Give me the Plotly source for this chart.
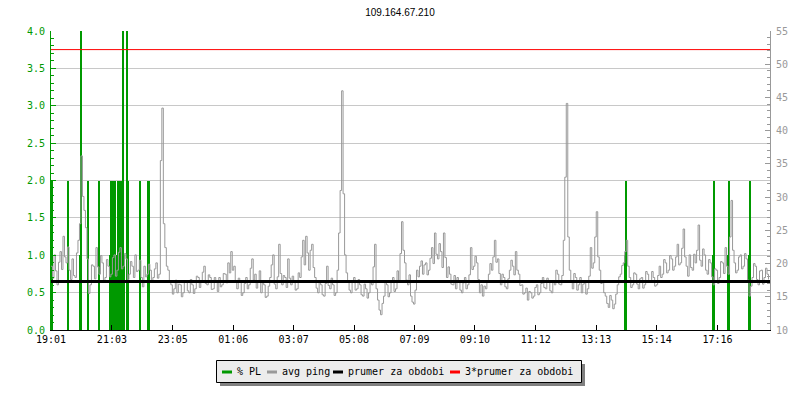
"""Graf pingu a packet loss pro 109.164.67.210 za poslednich 24 h."""
import pandas as pd
import plotly.graph_objects as go

TITLE = "109.164.67.210"
START = "2024-05-01 19:01"
END = "2024-05-02 19:01"

# avg ping [ms], jeden vzorek po 3 minutach od START
ping_ms = [
    19.6, 17.8, 21.3, 18.9, 16.8, 20.2, 21.8, 19.1, 24.1, 21.0,
    20.1, 22.5, 19.0, 17.6, 20.7, 18.2, 17.9, 21.6, 23.5, 26.0,
    36.2, 30.1, 28.0, 25.4, 20.7, 15.5, 16.8, 19.8, 19.6, 17.7,
    22.4, 19.5, 18.4, 21.2, 20.1, 17.3, 17.9, 20.6, 19.6, 18.0,
    18.4, 20.9, 21.3, 18.1, 19.0, 21.7, 22.4, 19.2, 19.6, 21.5,
    20.7, 17.6, 18.4, 20.3, 19.6, 17.9, 21.3, 18.8, 19.0, 20.5,
    17.9, 16.5, 19.6, 18.0, 18.4, 19.9, 19.0, 17.4, 17.9, 19.2,
    20.1, 17.8, 18.4, 35.5, 43.4, 26.0, 22.4, 19.6, 19.0, 17.2,
    16.8, 15.4, 16.2, 17.5, 15.6, 16.9, 16.8, 15.0, 15.6, 17.2,
    17.3, 15.9, 15.6, 17.6, 16.8, 15.5, 16.2, 18.1, 17.9, 16.4,
    17.3, 18.7, 19.6, 17.0, 16.8, 18.3, 17.9, 16.1, 16.2, 17.9,
    17.3, 15.8, 17.9, 16.5, 16.8, 18.5, 18.4, 17.1, 20.1, 18.6,
    21.8, 19.0, 19.6, 17.4, 16.2, 17.8, 17.3, 15.2, 15.6, 17.0,
    17.9, 16.2, 16.8, 19.3, 20.7, 17.5, 18.4, 16.3, 17.3, 18.9,
    15.6, 17.1, 16.8, 14.9, 15.1, 16.6, 17.9, 19.8, 21.3, 16.9,
    16.2, 18.0, 22.9, 18.5, 16.8, 18.2, 17.9, 16.4, 20.7, 17.8,
    16.8, 18.1, 17.3, 16.0, 16.2, 18.6, 17.9, 21.0, 23.5, 19.8,
    24.1, 21.6, 19.0, 22.0, 22.9, 19.4, 17.9, 16.3, 15.6, 17.4,
    16.8, 15.3, 15.1, 17.0, 19.6, 16.7, 16.2, 17.8, 16.8, 15.2,
    15.6, 19.0, 24.6, 31.0, 46.0, 30.5, 21.3, 18.6, 17.3, 16.0,
    15.6, 17.2, 17.9, 16.0, 16.2, 17.6, 16.8, 15.3, 15.1, 16.9,
    16.2, 14.8, 15.6, 17.1, 16.8, 19.5, 22.9, 16.2, 14.5, 13.0,
    12.3, 14.0, 15.1, 17.4, 16.8, 15.0, 15.6, 17.3, 17.9, 15.8,
    16.2, 18.9, 17.3, 21.5, 26.3, 22.0, 20.1, 17.5, 16.8, 18.3,
    15.1, 14.2, 13.9, 16.0, 19.0, 18.0, 19.6, 20.4, 18.4, 19.8,
    20.1, 18.3, 19.0, 20.8, 22.4, 20.0, 24.6, 21.4, 20.7, 23.0,
    21.8, 19.4, 24.6, 20.9, 17.9, 19.5, 18.4, 16.9, 16.8, 18.2,
    16.2, 17.9, 17.3, 16.0, 15.6, 17.1, 17.9, 16.2, 16.8, 18.3,
    22.4, 19.1, 19.6, 21.1, 20.1, 17.6, 15.6, 16.8, 15.1, 16.6,
    16.2, 17.4, 18.4, 20.0, 19.0, 21.0, 23.5, 20.2, 20.7, 18.5,
    16.8, 18.4, 17.9, 16.5, 16.2, 17.7, 19.0, 20.5, 19.6, 18.3,
    21.8, 19.0, 18.4, 16.7, 16.8, 15.4, 15.6, 16.3, 14.5, 15.8,
    15.6, 14.8, 15.1, 16.4, 16.8, 15.3, 15.6, 17.0, 17.9, 16.4,
    16.2, 17.8, 17.3, 15.9, 15.6, 17.4, 16.8, 19.0, 18.4, 16.9,
    16.8, 18.2, 23.5, 33.0, 44.1, 24.0, 19.0, 17.3, 16.2, 18.5,
    17.9, 16.0, 16.8, 17.9, 15.6, 16.9, 17.3, 15.4, 16.2, 18.1,
    22.4, 19.3, 20.1, 24.0, 27.8, 21.0, 19.0, 17.0, 17.3, 15.6,
    15.1, 14.0, 13.4, 15.2, 14.5, 13.2, 13.9, 15.4, 16.8, 18.0,
    18.4, 19.7, 20.1, 21.8, 23.5, 19.6, 17.9, 16.4, 16.8, 18.6,
    18.4, 16.9, 16.2, 17.7, 17.9, 16.3, 16.8, 18.8, 18.4, 17.2,
    17.3, 18.8, 17.9, 16.6, 16.8, 18.2, 19.6, 17.9, 18.4, 20.6,
    20.1, 18.6, 19.0, 21.2, 20.7, 19.0, 19.6, 21.0, 22.9, 19.8,
    20.1, 22.3, 25.2, 21.0, 19.6, 18.1, 21.3, 19.4, 19.0, 21.4,
    20.1, 22.0, 25.8, 20.5, 19.6, 22.2, 21.3, 19.0, 18.4, 20.6,
    20.1, 18.0, 16.8, 19.2, 19.0, 17.0, 17.9, 20.3, 20.1, 18.5,
    22.4, 19.6, 18.4, 24.0, 29.5, 22.0, 20.1, 18.6, 19.0, 21.0,
    21.3, 19.2, 19.6, 21.5, 20.7, 17.5, 15.1, 16.6, 17.9, 20.0,
    19.6, 17.6, 16.8, 18.9, 19.0, 16.9, 17.9, 19.3, 18.4, 17.6,
]

# packet loss [%] - jen nenulove vzorky
pl_time = [
    "2024-05-01 19:01", "2024-05-01 19:03", "2024-05-01 19:35",
    "2024-05-01 19:59", "2024-05-01 20:01", "2024-05-01 20:15",
    "2024-05-01 20:37", "2024-05-01 20:59", "2024-05-01 21:01",
    "2024-05-01 21:03", "2024-05-01 21:05", "2024-05-01 21:07",
    "2024-05-01 21:09", "2024-05-01 21:11", "2024-05-01 21:13",
    "2024-05-01 21:15", "2024-05-01 21:17", "2024-05-01 21:19",
    "2024-05-01 21:21", "2024-05-01 21:23", "2024-05-01 21:25",
    "2024-05-01 21:27", "2024-05-01 21:33", "2024-05-01 21:35",
    "2024-05-01 21:59", "2024-05-01 22:17",
    "2024-05-02 14:11", "2024-05-02 14:13", "2024-05-02 17:07",
    "2024-05-02 17:09", "2024-05-02 17:37", "2024-05-02 17:39",
    "2024-05-02 18:19", "2024-05-02 18:21",
]
pl_pct = [
    2.0, 2.0, 2.0,
    1.0, 6.0, 2.0,
    2.0, 1.0, 2.0,
    1.0, 2.0, 1.0,
    2.0, 1.0, 1.0,
    2.0, 1.0, 2.0,
    1.0, 2.0, 6.0,
    1.0, 6.0, 2.0,
    2.0, 2.0,
    1.0, 2.0, 1.0,
    2.0, 1.0, 2.0,
    1.0, 2.0,
]

prumer_ms = 17.3
prumer3_ms = 52.2

tick_time = [
    "2024-05-01 19:01", "2024-05-01 21:03", "2024-05-01 23:05",
    "2024-05-02 01:06", "2024-05-02 03:07", "2024-05-02 05:08",
    "2024-05-02 07:09", "2024-05-02 09:10", "2024-05-02 11:12",
    "2024-05-02 13:13", "2024-05-02 15:14", "2024-05-02 17:16",
]
tick_text = [t[-5:] for t in tick_time]

legend_names = ["% PL", "avg ping", "prumer za obdobi", "3*prumer za obdobi"]
legend_colors = ["#009900", "#999999", "black", "red"]

GREEN = "#009900"
GRAY = "#999999"
FONT = "DejaVu Sans Mono"

# plocha grafu v pixelech (kvuli vlastni legende pod grafem)
L, R, T, B = 51, 30, 31, 70
PW, PH = 800 - L - R, 400 - T - B


def px(x):
    return (x - L) / PW


def py(y):
    return (400 - B - y) / PH


ping_time = pd.date_range(START, periods=len(ping_ms), freq="3min")

fig = go.Figure()
fig.add_trace(go.Bar(
    x=pd.to_datetime(pl_time), y=pl_pct, width=3.5 * 60 * 1000,
    marker=dict(color=GREEN, line=dict(width=0)),
    name=legend_names[0], yaxis="y",
))
fig.add_trace(go.Scatter(
    x=ping_time, y=ping_ms, mode="lines", name=legend_names[1],
    line=dict(color=GRAY, width=1, shape="hv"), yaxis="y2",
))
fig.add_trace(go.Scatter(
    x=[START, END], y=[prumer_ms, prumer_ms], mode="lines",
    name=legend_names[2], line=dict(color="black", width=3), yaxis="y2",
))
fig.add_trace(go.Scatter(
    x=[START, END], y=[prumer3_ms, prumer3_ms], mode="lines",
    name=legend_names[3], line=dict(color="red", width=1), yaxis="y2",
))

# legenda rucne: stin, ramecek, carky a texty
fig.add_shape(type="rect", xref="paper", yref="paper",
              x0=px(220), x1=px(585), y0=py(386), y1=py(364),
              fillcolor="#808080", line=dict(width=0))
fig.add_shape(type="rect", xref="paper", yref="paper",
              x0=px(216.5), x1=px(581.5), y0=py(382.5), y1=py(360.5),
              fillcolor="#ececec", line=dict(color="black", width=1))
sym_x = [222, 267, 333, 450]
for name, color, x0 in zip(legend_names, legend_colors, sym_x):
    fig.add_shape(type="line", xref="paper", yref="paper",
                  x0=px(x0), x1=px(x0 + 10), y0=py(372), y1=py(372),
                  line=dict(color=color, width=3))
    fig.add_annotation(text=name, xref="paper", yref="paper",
                       x=px(x0 + 13), y=py(371.5), xanchor="left",
                       yanchor="middle", showarrow=False,
                       font=dict(family=FONT, size=10, color="black"))

fig.update_layout(
    width=800, height=400,
    margin=dict(l=L, r=R, t=T, b=B),
    paper_bgcolor="white", plot_bgcolor="white",
    font=dict(family=FONT, size=10, color="black"),
    title=dict(text=TITLE, x=0.5, xanchor="center", y=1 - 12 / 400,
               yanchor="middle", font=dict(family="Liberation Sans", size=10)),
    showlegend=False,
    bargap=0,
    xaxis=dict(
        type="date", range=[START, END],
        tickvals=pd.to_datetime(tick_time), ticktext=tick_text,
        showgrid=False, zeroline=False,
        showline=True, linecolor="black", linewidth=1,
        ticks="inside", ticklen=5, tickcolor="black",
        tickfont=dict(family=FONT, size=10, color="black"),
    ),
    yaxis=dict(
        range=[0, 4], dtick=0.5, tickformat=".1f",
        showgrid=True, gridcolor="#c8c8c8", gridwidth=1, zeroline=False,
        showline=True, linecolor=GREEN, linewidth=1,
        ticks="inside", ticklen=5, tickcolor=GREEN,
        minor=dict(dtick=0.1, ticks="inside", ticklen=3, tickcolor=GREEN,
                   tickwidth=1, showgrid=False),
        tickfont=dict(family=FONT, size=10, color=GREEN),
        ticklabelstandoff=3,
    ),
    yaxis2=dict(
        range=[10, 55], dtick=5, overlaying="y", side="right",
        showgrid=False, zeroline=False,
        showline=True, linecolor=GRAY, linewidth=1,
        ticks="inside", ticklen=5, tickcolor=GRAY,
        minor=dict(dtick=1, ticks="inside", ticklen=3, tickcolor=GRAY,
                   tickwidth=1),
        tickfont=dict(family=FONT, size=10, color=GRAY),
        ticklabelstandoff=3,
    ),
)

fig.write_html(
    "out.html",
    config={"displayModeBar": False},
    post_script="document.body.style.margin = '0';",
)
